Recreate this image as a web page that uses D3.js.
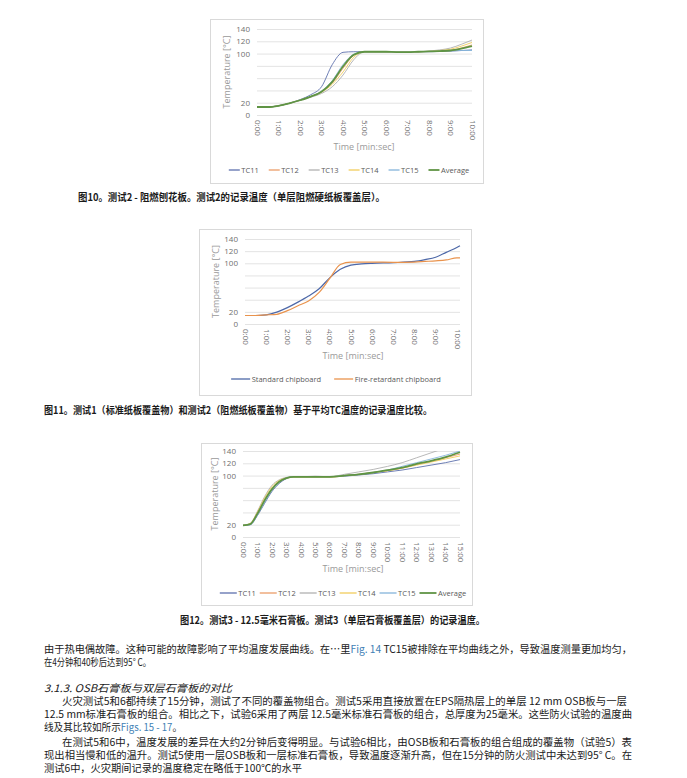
<!DOCTYPE html>
<html>
<head>
<meta charset="utf-8">
<script src="https://cdn.jsdelivr.net/npm/d3@7"></script>
<style>
  body { margin: 0; background: #fff; }
  svg { display: block; }
</style>
</head>
<body>
<svg id="page" width="687" height="778"></svg>
<script>
// ---- data ----
const yTicks = [0, 20, 40, 60, 80, 100, 120, 140];
const yTickLabels = ["0", "20", "", "", "", "100", "120", "140"];

// Fig 10: test 2, fire-retardant chipboard
const mins1 = [0, 0.5, 1, 1.5, 2, 2.5, 3, 3.5, 4, 4.5, 5, 5.5, 6, 6.5, 7, 7.5, 8, 8.5, 9, 9.5, 10];
const xTicks1 = ["0:00", "1:00", "2:00", "3:00", "4:00", "5:00", "6:00", "7:00", "8:00", "9:00", "10:00"];
const tc11a = [13, 13, 15, 19, 25, 33, 46, 82, 102, 103, 103, 103, 103, 102.5, 102.5, 103, 103, 103.5, 104, 105, 106];
const tc12a = [13, 13, 15, 19, 24, 30, 38, 52, 76, 97, 103, 103, 103, 102.5, 102.5, 103, 103.5, 104, 105, 109, 114];
const tc13a = [13, 13, 15, 19, 24, 29, 35, 46, 65, 90, 103, 103, 103, 102.5, 102.5, 103, 104, 106, 109, 115, 122];
const tc14a = [13, 13, 15, 19, 24, 30, 37, 50, 70, 94, 103, 103, 103, 102.5, 102.5, 103, 103.5, 105, 107, 112, 118];
const tc15a = [13, 13, 15, 19, 24, 30, 39, 56, 82, 99, 103, 103, 103, 102.5, 102.5, 103, 103.5, 104, 104.5, 105, 105];
const avg1  = [13, 13, 15, 19, 24, 30, 38, 54, 79, 98, 103, 103, 103, 102.5, 102.5, 103, 103.5, 104, 105, 108, 112];

// Fig 11: average TC, test 1 vs test 2
const mins2 = [0, 0.5, 1, 1.5, 2, 2.5, 3, 3.5, 4, 4.5, 5, 5.5, 6, 7, 8, 8.5, 9, 9.5, 10, 10.15];
const xTicks2 = xTicks1;
const standardBoard = [14, 14, 15, 19.5, 27, 36, 46, 58, 76, 90, 97, 99, 100, 101, 103, 106, 110, 118, 126, 129];
const retardantBoard = [14, 14, 15, 16, 22, 30, 38, 52, 75, 98, 102, 102, 102, 101.5, 102, 103, 104, 105.5, 109, 109];

// Fig 12: test 3, 12.5 mm gypsum board
const mins3 = [0, 0.5, 1, 1.5, 2, 2.5, 3, 3.5, 4, 5, 6, 7, 8, 9, 10, 11, 12, 13, 14, 15];
const xTicks3 = ["0:00", "1:00", "2:00", "3:00", "4:00", "5:00", "6:00", "7:00", "8:00", "9:00", "10:00", "11:00", "12:00", "13:00", "14:00", "15:00"];
const tc11c = [19, 20, 35, 55, 74, 87, 95, 98, 98, 98, 98, 99, 101, 103, 106, 109, 113, 117, 121, 126];
const tc12c = [19, 21, 38, 60, 78, 90, 96, 98, 98, 98, 98, 100, 102, 105, 108, 112, 118, 123, 129, 135];
const tc13c = [19, 22, 42, 66, 84, 93, 97, 98, 98, 99, 98, 102, 106, 110, 115, 121, 129, 137, 145, 152];
const tc14c = [19, 22, 41, 64, 82, 92, 96, 97, 97, 97, 97, 100, 102, 105, 108, 112, 117, 122, 127, 132];
const tc15c = [19, 20, 36, 57, 76, 89, 96, 98, 98, 98, 98, 100, 102, 105, 109, 115, 121, 127, 133, 140];
const avg3  = [19, 21, 38, 60, 78, 90, 96, 98, 98, 98, 98, 100, 102, 105, 109, 113, 119, 124, 130, 138];

const tcNames = ["TC11", "TC12", "TC13", "TC14", "TC15", "Average"];
const tcColors = ["#5d70ad", "#eb9c68", "#b0b0b0", "#f2cd5c", "#84b4da", "#5f9444"];

// ---- page ----
const svg = d3.select("#page");
svg.append("rect").attr("width", 687).attr("height", 778).attr("fill", "#fff");

const chartFont = "'Open Sans', 'DejaVu Sans', sans-serif";
const cjkFont = "'Noto Sans CJK SC', 'Noto Sans', sans-serif";
let clipId = 0;

function drawChart(o) {
  const g = svg.append("g");
  g.append("rect")
    .attr("x", o.box[0] + 0.5).attr("y", o.box[1] + 0.5)
    .attr("width", o.box[2] - o.box[0]).attr("height", o.box[3] - o.box[1])
    .attr("fill", "#fff").attr("stroke", "#d9d9d9");

  const x = d3.scaleLinear().domain([0, o.xMax]).range([o.plot[0], o.plot[1]]);
  const y = d3.scaleLinear().domain([0, 140]).range([o.plot[3], o.plot[2]]);

  // gridlines + y labels
  g.append("g")
    .attr("transform", `translate(${o.plot[0]},0)`)
    .call(d3.axisLeft(y).tickValues(yTicks)
      .tickFormat((d, i) => yTickLabels[i])
      .tickSize(-(o.plot[1] - o.plot[0])).tickPadding(7))
    .call(a => a.select(".domain").remove())
    .call(a => a.selectAll("line").attr("stroke", "#e3e3e3"))
    .call(a => a.selectAll("text").attr("fill", "#6f6f6f")
      .style("font", `8px ${chartFont}`));

  // x labels, rotated
  g.append("g")
    .attr("transform", `translate(0,${o.plot[3]})`)
    .call(d3.axisBottom(x).tickValues(o.xLabels.map((d, i) => i))
      .tickFormat((d, i) => o.xLabels[i]).tickSize(0))
    .call(a => a.select(".domain").remove())
    .call(a => a.selectAll("text")
      .attr("transform", "rotate(90)")
      .attr("text-anchor", "start")
      .attr("x", 5).attr("y", 0).attr("dy", "0.35em")
      .attr("fill", "#6f6f6f")
      .style("font", `8px ${chartFont}`));

  const cid = "clip" + (clipId++);
  g.append("clipPath").attr("id", cid).append("rect")
    .attr("x", o.plot[0] - 2).attr("y", o.plot[2])
    .attr("width", o.plot[1] - o.plot[0] + 4).attr("height", o.plot[3] - o.plot[2] + 2);

  const line = d3.line()
    .x(d => x(d[0])).y(d => y(d[1]))
    .curve(d3.curveMonotoneX);

  g.append("g").attr("clip-path", `url(#${cid})`)
    .selectAll("path")
    .data(o.series)
    .join("path")
    .attr("d", s => line(o.xs.map((m, i) => [m, s.values[i]])))
    .attr("fill", "none")
    .attr("stroke", s => s.color)
    .attr("stroke-width", s => s.width);

  // axis titles
  g.append("text")
    .attr("transform", `translate(${o.yTitleX},${(o.plot[2] + o.plot[3]) / 2}) rotate(-90)`)
    .attr("text-anchor", "middle").attr("dy", "0.35em")
    .attr("fill", "#9a9a9a").style("font", `9px ${chartFont}`)
    .text("Temperature [°C]");
  g.append("text")
    .attr("x", o.xTitleX).attr("y", o.xTitleY)
    .attr("text-anchor", "middle").attr("dy", "0.35em")
    .attr("fill", "#9a9a9a").style("font", `9px ${chartFont}`)
    .text("Time [min:sec]");

  // legend, laid out left to right and centred
  const lg = g.append("g");
  let cx = 0;
  o.series.forEach(s => {
    const it = lg.append("g").attr("transform", `translate(${cx},0)`);
    it.append("line").attr("x1", 0).attr("x2", o.legendLine)
      .attr("stroke", s.color).attr("stroke-width", s.width > 1.5 ? 1.8 : 1.3);
    const t = it.append("text").attr("x", o.legendLine + 1.5).attr("dy", "0.35em")
      .attr("fill", "#595959").style("font", `${o.legendFont}px ${chartFont}`).text(s.name);
    cx += o.legendLine + 1.5 + t.node().getComputedTextLength() + o.legendGap;
  });
  cx -= o.legendGap;
  lg.attr("transform", `translate(${o.legendX - cx / 2},${o.legendY})`);
}

function tcSeries(vals) {
  return vals.map((v, i) => ({ name: tcNames[i], color: tcColors[i], values: v, width: i === 5 ? 1.8 : 0.9 }));
}

drawChart({
  box: [210, 19, 483, 183], plot: [257, 472, 29, 115],
  xMax: 10, xs: mins1, xLabels: xTicks1,
  series: tcSeries([tc11a, tc12a, tc13a, tc14a, tc15a, avg1]),
  yTitleX: 227, xTitleX: 364, xTitleY: 147,
  legendX: 349, legendY: 170, legendLine: 11, legendGap: 10, legendFont: 7.5
});

drawChart({
  box: [199, 229, 471, 395], plot: [245, 460, 239, 324],
  xMax: 10.15, xs: mins2, xLabels: xTicks2,
  series: [
    { name: "Standard chipboard", color: "#4d68a8", values: standardBoard, width: 1.2 },
    { name: "Fire-retardant chipboard", color: "#e9934d", values: retardantBoard, width: 1.2 }
  ],
  yTitleX: 216, xTitleX: 353, xTitleY: 356,
  legendX: 336, legendY: 379, legendLine: 19, legendGap: 13, legendFont: 7.5
});

drawChart({
  box: [201, 443, 472, 605], plot: [243, 460, 451, 537],
  xMax: 15, xs: mins3, xLabels: xTicks3,
  series: tcSeries([tc11c, tc12c, tc13c, tc14c, tc15c, avg3]),
  yTitleX: 215, xTitleX: 353, xTitleY: 569,
  legendX: 343, legendY: 593, legendLine: 17, legendGap: 4, legendFont: 7.5
});

// ---- captions and body text ----
const link = "#3f7fb5";
function textLine(x, yy, parts, len, opts = {}) {
  const t = svg.append("text")
    .attr("x", x).attr("y", yy)
    .attr("fill", "#1a1a1a")
    .style("font-family", cjkFont)
    .style("font-size", (opts.size || 10.5) + "px")
    .style("font-weight", opts.weight || 400)
    .style("font-style", opts.italic ? "italic" : "normal");
  if (len) t.attr("textLength", len).attr("lengthAdjust", "spacingAndGlyphs");
  parts.forEach(p => {
    const s = typeof p === "string" ? { t: p } : p;
    t.append("tspan").attr("fill", s.c || null).text(s.t);
  });
}

textLine(78, 201, ["图10。测试2 - 阻燃刨花板。测试2的记录温度（单层阻燃硬纸板覆盖层）。"], 307, { size: 10, weight: 700 });
textLine(44, 414, ["图11。测试1（标准纸板覆盖物）和测试2（阻燃纸板覆盖物）基于平均TC温度的记录温度比较。"], 388, { size: 10, weight: 700 });
textLine(180, 624, ["图12。测试3 - 12.5毫米石膏板。测试3（单层石膏板覆盖层）的记录温度。"], 305, { size: 10, weight: 700 });

textLine(44, 653, ["由于热电偶故障。这种可能的故障影响了平均温度发展曲线。在…里", { t: "Fig. 14", c: link }, " TC15被排除在平均曲线之外，导致温度测量更加均匀，"], 588);
textLine(44, 666, ["在4分钟和40秒后达到95° C。"], 107);
textLine(44, 692, ["3.1.3.   OSB石膏板与双层石膏板的对比"], 188, { italic: true });
textLine(62, 705, ["火灾测试5和6都持续了15分钟，测试了不同的覆盖物组合。测试5采用直接放置在EPS隔热层上的单层 12 mm OSB板与一层"], 565);
textLine(44, 718, ["12.5 mm标准石膏板的组合。相比之下，试验6采用了两层 12.5毫米标准石膏板的组合，总厚度为25毫米。这些防火试验的温度曲"], 588);
textLine(44, 731, ["线及其比较如所示", { t: "Figs. 15 - 17", c: link }, "。"], 138);
textLine(62, 746, ["在测试5和6中，温度发展的差异在大约2分钟后变得明显。与试验6相比，由OSB板和石膏板的组合组成的覆盖物（试验5）表"], 570);
textLine(44, 759, ["现出相当慢和低的温升。测试5使用一层OSB板和一层标准石膏板，导致温度逐渐升高，但在15分钟的防火测试中未达到95° C。在"], 588);
textLine(44, 772, ["测试6中，火灾期间记录的温度稳定在略低于100℃的水平"], 258);
</script>
</body>
</html>
